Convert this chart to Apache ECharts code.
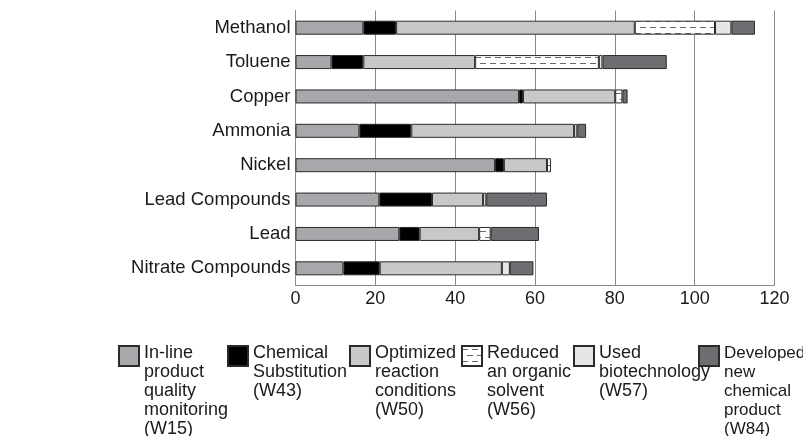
<!DOCTYPE html>
<html>
<head>
<meta charset="utf-8">
<script src="https://cdn.jsdelivr.net/npm/echarts@6/dist/echarts.min.js"></script>
<style>
html,body{margin:0;padding:0;background:#fff;}
#chart{width:803px;height:436px;}
</style>
</head>
<body>
<div id="chart"></div>
<script>
// ---- data ----
const categories = ['Methanol', 'Toluene', 'Copper', 'Ammonia', 'Nickel', 'Lead Compounds', 'Lead', 'Nitrate Compounds'];
const inLineQuality = [17, 9, 56, 16, 50, 21, 26, 12];
const chemicalSubstitution = [8.2, 8, 1, 13, 2.2, 13.2, 5.1, 9.1];
const optimizedConditions = [59.8, 28, 23.1, 40.8, 10.8, 12.8, 14.9, 30.6];
const reducedSolvent = [20.1, 31, 1.8, 0, 1, 0, 2.9, 0];
const usedBiotech = [4.1, 0.9, 0, 0.8, 0, 0.8, 0, 2];
const developedProduct = [5.9, 16.1, 1.3, 2.2, 0, 15.2, 12.1, 5.9];
const xTicks = [0, 20, 40, 60, 80, 100, 120];
const seriesNames = [
  'In-line\nproduct\nquality\nmonitoring\n(W15)',
  'Chemical\nSubstitution\n(W43)',
  'Optimized\nreaction\nconditions\n(W50)',
  'Reduced\nan organic\nsolvent\n(W56)',
  'Used\nbiotechnology\n(W57)',
  'Developed\nnew\nchemical\nproduct\n(W84)'
];
const seriesValues = [inLineQuality, chemicalSubstitution, optimizedConditions, reducedSolvent, usedBiotech, developedProduct];

// ---- styles ----
const FONT = '"Liberation Sans", Arial, sans-serif';
const LH = 19;
const pat = document.createElement('canvas');
pat.width = 10; pat.height = 12;
const pctx = pat.getContext('2d');
pctx.fillStyle = '#ffffff'; pctx.fillRect(0, 0, 10, 12);
pctx.fillStyle = '#6a6a6a';
pctx.fillRect(0, 3, 6, 1);
pctx.fillRect(5, 9, 5, 1); pctx.fillRect(0, 9, 1, 1);
const fills = ['#a6a8ab', '#000000', '#c7c8ca', {image: pat, repeat: 'repeat'}, '#e5e6e7', '#6d6e71'];
const legendLeft = [118, 227, 349, 461, 573, 698];
const legendFontSize = [18, 18, 18, 18, 18, 17];

const series = seriesValues.map((vals, i) => ({
  name: seriesNames[i],
  type: 'bar',
  stack: 'total',
  barWidth: 14,
  data: vals.map(v => v === 0 ? null : v),
  itemStyle: {color: fills[i], borderColor: '#2a2a2a', borderWidth: 1},
  emphasis: {disabled: true},
  animation: false
}));

// legend icon: 20x20 square at the top of a tall (invisible) box so the
// multi-line label starts level with the square
const legends = seriesNames.map((n, i) => {
  const lines = n.split('\n').length;
  const h = lines * LH - 4;
  return {
    left: legendLeft[i],
    top: 344,
    padding: 0,
    itemWidth: 20,
    itemHeight: h,
    symbolKeepAspect: false,
    icon: 'path://M0 0L20 0L20 20L0 20Z M0 ' + h + 'L0 ' + h,
    selectedMode: false,
    data: [n],
    textStyle: {fontFamily: FONT, fontSize: legendFontSize[i], lineHeight: LH, color: '#1a1a1a'}
  };
});

const chart = echarts.init(document.getElementById('chart'), null, {renderer: 'canvas'});
chart.setOption({
  animation: false,
  backgroundColor: '#ffffff',
  grid: {left: 295.5, right: 28.5, top: 10.5, bottom: 150.5, containLabel: false},
  legend: legends,
  xAxis: {
    type: 'value',
    min: xTicks[0],
    max: xTicks[xTicks.length - 1],
    interval: xTicks[1] - xTicks[0],
    axisLine: {show: true, lineStyle: {color: '#8a8a8a', width: 1}},
    axisTick: {show: false},
    splitLine: {show: true, lineStyle: {color: '#8a8a8a', width: 1}},
    axisLabel: {fontFamily: FONT, fontSize: 18, color: '#1a1a1a', margin: 5}
  },
  yAxis: {
    type: 'category',
    inverse: true,
    data: categories,
    axisLine: {show: true, lineStyle: {color: '#8a8a8a', width: 1}},
    axisTick: {show: false},
    splitLine: {show: false},
    axisLabel: {fontFamily: FONT, fontSize: 18.5, color: '#1a1a1a', margin: 5}
  },
  series: series
});
</script>
</body>
</html>
